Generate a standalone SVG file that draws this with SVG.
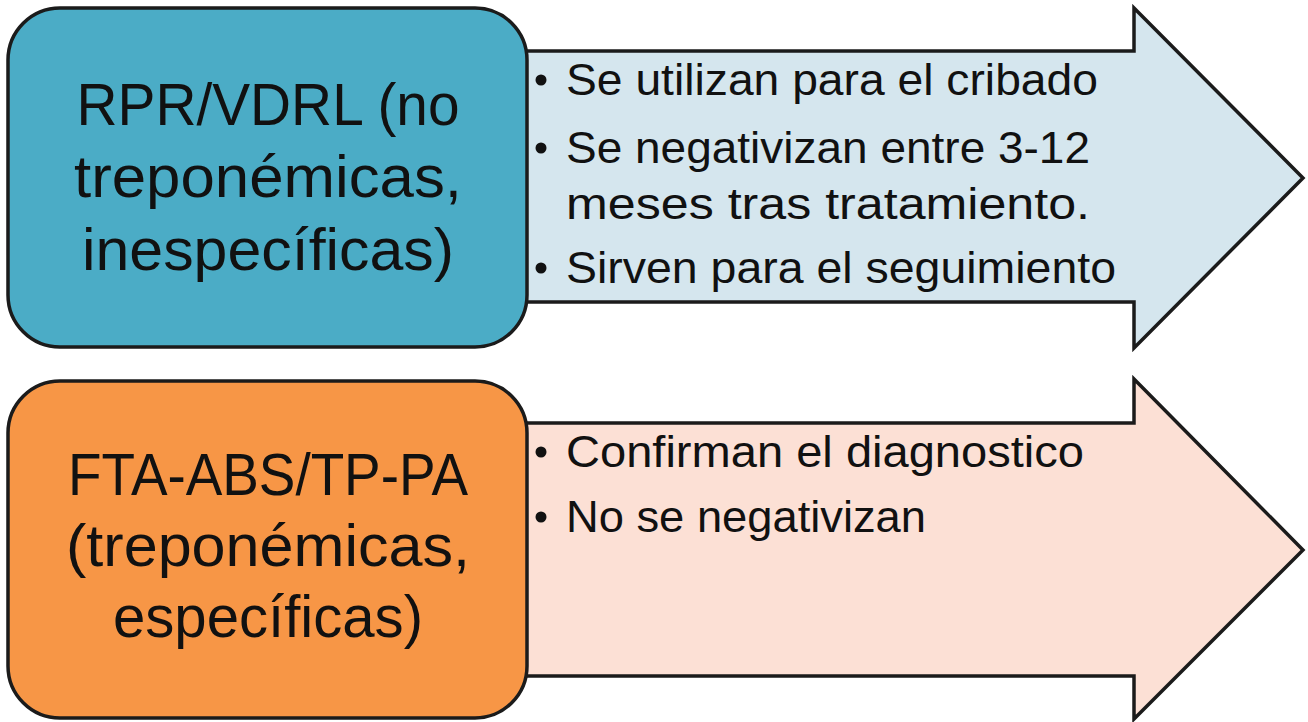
<svg xmlns="http://www.w3.org/2000/svg" width="1308" height="722" viewBox="0 0 1308 722">
<style>
.arrow{stroke:#1b1b1b;stroke-width:3.5;stroke-linejoin:miter}
.box{stroke:#1b1b1b;stroke-width:3.5}
.big{font-family:"Liberation Sans",Arial,sans-serif;font-size:60px;fill:#111;text-anchor:middle}
.item{font-family:"Liberation Sans",Arial,sans-serif;font-size:45px;fill:#111}
</style>
<rect width="1308" height="722" fill="#fff"/>
<g id="connectors">
<polygon id="arrow-top" class="arrow" fill="#d5e6ee" points="500,51 1134,51 1134,8 1303,178 1134,348 1134,302 500,302"/>
<polygon id="arrow-bottom" class="arrow" fill="#fce0d5" points="500,423 1134,423 1134,379 1303,550 1134,719 1134,676 500,676"/>
</g>
<g id="node-rpr">
<rect class="box" x="8" y="8" width="519" height="339" rx="52" fill="#4bacc6"/>
<text class="big" x="268" y="125" textLength="383" lengthAdjust="spacingAndGlyphs">RPR/VDRL (no</text>
<text class="big" x="268" y="197" textLength="388" lengthAdjust="spacingAndGlyphs">treponémicas,</text>
<text class="big" x="268" y="270" textLength="372" lengthAdjust="spacingAndGlyphs">inespecíficas)</text>
</g>
<g id="list-rpr">
<circle cx="541" cy="80" r="5.5" fill="#111"/>
<text class="item" x="566" y="95" textLength="532" lengthAdjust="spacingAndGlyphs">Se utilizan para el cribado</text>
<circle cx="541" cy="148" r="5.5" fill="#111"/>
<text class="item" x="566" y="163" textLength="524" lengthAdjust="spacingAndGlyphs">Se negativizan entre 3-12</text>
<text class="item" x="566" y="219" textLength="524" lengthAdjust="spacingAndGlyphs">meses tras tratamiento.</text>
<circle cx="541" cy="268" r="5.5" fill="#111"/>
<text class="item" x="566" y="283" textLength="550" lengthAdjust="spacingAndGlyphs">Sirven para el seguimiento</text>
</g>
<g id="node-fta">
<rect class="box" x="8" y="381" width="519" height="337" rx="52" fill="#f79646"/>
<text class="big" x="268" y="495" textLength="400" lengthAdjust="spacingAndGlyphs">FTA-ABS/TP-PA</text>
<text class="big" x="268" y="566" textLength="404" lengthAdjust="spacingAndGlyphs">(treponémicas,</text>
<text class="big" x="268" y="637" textLength="310" lengthAdjust="spacingAndGlyphs">específicas)</text>
</g>
<g id="list-fta">
<circle cx="541" cy="452" r="5.5" fill="#111"/>
<text class="item" x="566" y="467" textLength="518" lengthAdjust="spacingAndGlyphs">Confirman el diagnostico</text>
<circle cx="541" cy="517" r="5.5" fill="#111"/>
<text class="item" x="566" y="532" textLength="360" lengthAdjust="spacingAndGlyphs">No se negativizan</text>
</g>
</svg>
